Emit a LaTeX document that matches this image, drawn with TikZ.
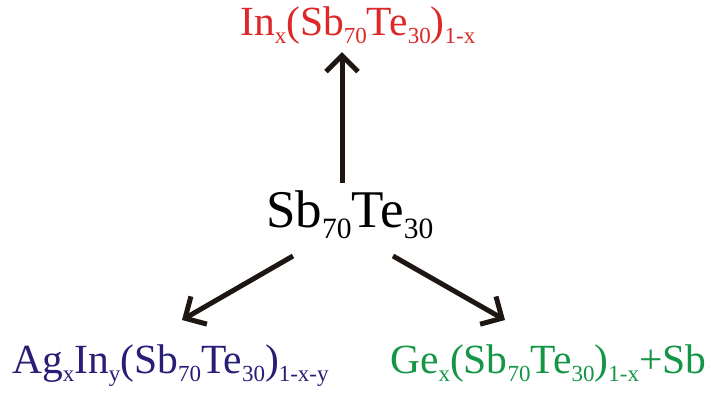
\documentclass[tikz,border=0pt]{standalone}
\usepackage{fontspec}
\setmainfont{Liberation Serif}
\usetikzlibrary{arrows.meta}
\definecolor{cred}{RGB}{220,40,40}
\definecolor{cblue}{RGB}{40,30,120}
\definecolor{cgreen}{RGB}{20,150,70}
\definecolor{carrow}{RGB}{30,22,18}
\newcommand\sbx[1]{\raisebox{-0.21em}{\fontsize{23}{24}\selectfont #1}}
\newcommand\sbc[1]{\raisebox{-0.21em}{\fontsize{29.5}{30}\selectfont #1}}
\begin{document}
\begin{tikzpicture}[x=1pt,y=-1pt,
  lbl/.style={inner sep=0pt, anchor=base west},
  big/.style={font=\fontsize{53}{58}\selectfont},
  mid/.style={font=\fontsize{41.5}{48}\selectfont},
  arr/.style={draw=carrow, line width=5pt, -{Straight Barb[length=16pt,width=32pt]}}]
\useasboundingbox (0,0) rectangle (716,392);
\node[lbl, mid, text=cred] (top) at (240,35) {In\sbx{x}(Sb\sbx{70}Te\sbx{30})\sbx{1-x}};
\node[lbl, big] (mid) at (266,227) {Sb\sbc{70}Te\sbc{30}};
\node[lbl, mid, text=cblue] (bl) at (12,373) {Ag\sbx{x}In\sbx{y}(Sb\sbx{70}Te\sbx{30})\sbx{1-x-y}};
\node[lbl, mid, text=cgreen] (br) at (390,373) {Ge\sbx{x}(Sb\sbx{70}Te\sbx{30})\sbx{1-x}+Sb};
\coordinate (a0) at (342,183);
\coordinate (a1) at (342,52);
\coordinate (b0) at (293,256);
\coordinate (b1) at (182,320);
\coordinate (c0) at (393,256);
\coordinate (c1) at (505,320);
\draw[arr] (a0) -- (a1);
\draw[arr] (b0) -- (b1);
\draw[arr] (c0) -- (c1);
\end{tikzpicture}
\end{document}
